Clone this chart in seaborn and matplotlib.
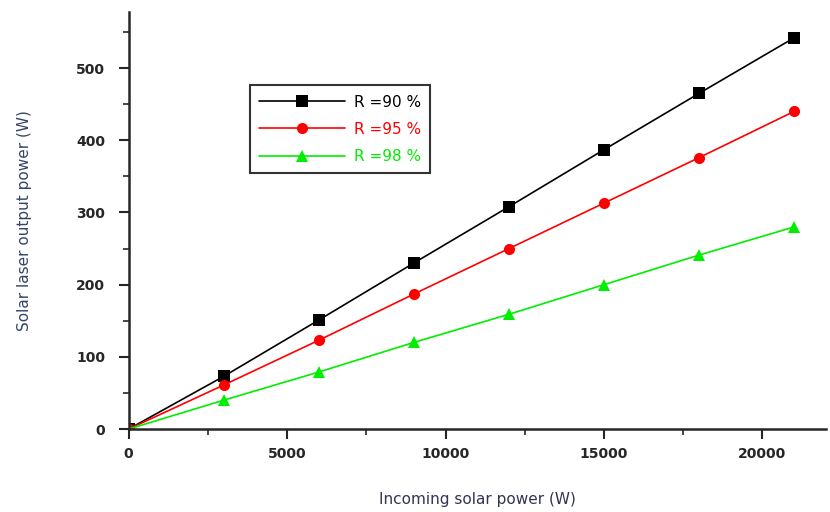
import numpy as np
import pandas as pd
import seaborn as sns
import matplotlib
matplotlib.use("Agg")
import matplotlib.pyplot as plt
from matplotlib.ticker import MultipleLocator

incoming = [0, 3000, 6000, 9000, 12000, 15000, 18000, 21000]
r90 = [0, 73, 151, 230, 308, 387, 465, 542]
r95 = [0, 61, 123, 187, 250, 313, 376, 440]
r98 = [0, 40, 79, 120, 159, 200, 241, 280]
labels = ["R =90 %", "R =95 %", "R =98 %"]
colors = ["#000000", "#ff0000", "#00ee00"]
markers = ["s", "o", "^"]

df = pd.concat([
    pd.DataFrame({"x": incoming, "y": vals, "series": lab})
    for vals, lab in zip([r90, r95, r98], labels)
])

sns.set_style("ticks")
plt.rcParams['font.family'] = ['DejaVu Sans']

fig = plt.figure(figsize=(8.3, 5.12), dpi=100)
ax = fig.add_axes([0.155, 0.162, 0.84, 0.815])

sns.lineplot(data=df, x="x", y="y", hue="series", style="series",
             palette=colors, markers=markers, dashes=False, markersize=8,
             markeredgewidth=0, linewidth=1.2, ax=ax)

ax.set_xlim(0, 22000)
ax.set_ylim(0, 578)
ax.xaxis.set_major_locator(MultipleLocator(5000))
ax.xaxis.set_minor_locator(MultipleLocator(2500))
ax.yaxis.set_major_locator(MultipleLocator(100))
ax.yaxis.set_minor_locator(MultipleLocator(50))
ax.tick_params(which="major", direction="out", length=7, width=1.5, labelsize=10)
ax.tick_params(axis="x", which="major", pad=6)
ax.tick_params(axis="y", which="major", pad=10)
ax.tick_params(which="minor", direction="out", length=4, width=1.2)
for lab in ax.get_xticklabels() + ax.get_yticklabels():
    lab.set_fontweight("bold")
for s in ["top", "right"]:
    ax.spines[s].set_visible(False)
for s in ["left", "bottom"]:
    ax.spines[s].set_linewidth(1.8)

ax.set_xlabel("Incoming solar power (W)", fontsize=11, color="#333355", labelpad=22)
ax.set_ylabel("Solar laser output power (W)", fontsize=11, color="#334466", labelpad=32)

leg = ax.legend(loc="upper left", bbox_to_anchor=(0.163, 0.842), frameon=True,
                fancybox=False, edgecolor="black", fontsize=11, handlelength=5.6,
                borderpad=0.6, labelspacing=0.8, handletextpad=0.6)
leg.get_frame().set_linewidth(1.5)
for txt, c in zip(leg.get_texts(), colors):
    txt.set_color(c)

fig.savefig("out.png", dpi=100)
